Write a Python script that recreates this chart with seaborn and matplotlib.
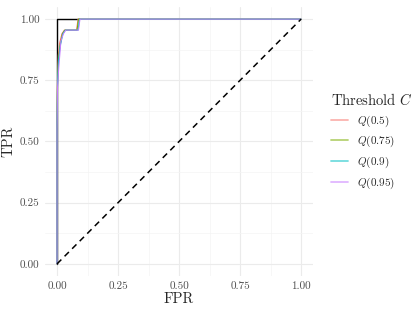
import numpy as np
import pandas as pd
import seaborn as sns
import matplotlib
matplotlib.use("Agg")
import matplotlib.pyplot as plt
from matplotlib.ticker import FormatStrFormatter, MultipleLocator

# ROC curves per threshold
labels = ["$Q(0.5)$", "$Q(0.75)$", "$Q(0.9)$", "$Q(0.95)$"]
fpr_q50 = [0.0, 0.0, 0.002, 0.005, 0.010, 0.020, 0.030, 0.080, 0.086, 1.0]
tpr_q50 = [0.0, 0.60, 0.76, 0.85, 0.90, 0.94, 0.955, 0.955, 1.0, 1.0]
fpr_q75 = [0.0, 0.0, 0.002, 0.006, 0.012, 0.022, 0.032, 0.082, 0.088, 1.0]
tpr_q75 = [0.0, 0.58, 0.74, 0.84, 0.89, 0.94, 0.955, 0.955, 1.0, 1.0]
fpr_q90 = [0.0, 0.0, 0.002, 0.006, 0.013, 0.024, 0.034, 0.086, 0.092, 1.0]
tpr_q90 = [0.0, 0.57, 0.73, 0.83, 0.89, 0.94, 0.955, 0.955, 1.0, 1.0]
fpr_q95 = [0.0, 0.0, 0.002, 0.007, 0.016, 0.026, 0.036, 0.088, 0.094, 1.0]
tpr_q95 = [0.0, 0.55, 0.72, 0.80, 0.91, 0.94, 0.955, 0.955, 1.0, 1.0]

# black reference step and chance diagonal
fpr_black = [0.0, 0.0, 0.088]
tpr_black = [0.0, 1.0, 1.0]
diag = [0.0, 1.0]

palette = ["#F8766D", "#7CAE00", "#00BFC4", "#C77CFF"]

frames = []
for lab, f, t in zip(labels, [fpr_q50, fpr_q75, fpr_q90, fpr_q95],
                     [tpr_q50, tpr_q75, tpr_q90, tpr_q95]):
    frames.append(pd.DataFrame({"FPR": f, "TPR": t, "C": lab}))
df = pd.concat(frames, ignore_index=True)

sns.set_style("white")
plt.rcParams["font.family"] = ["serif"]
plt.rcParams["font.serif"] = ["cmr10"]
plt.rcParams["mathtext.fontset"] = "cm"
plt.rcParams["axes.formatter.use_mathtext"] = True

fig = plt.figure(figsize=(4.15, 3.12), dpi=100)
ax = fig.add_axes([0.108, 0.115, 0.647, 0.863])

ax.plot(fpr_black, tpr_black, color="black", lw=1.0, zorder=2)
sns.lineplot(data=df, x="FPR", y="TPR", hue="C", palette=palette,
             estimator=None, sort=False, lw=0.75, ax=ax, zorder=3)
ax.plot(diag, diag, color="black", lw=1.1, ls=(0, (4, 3)), zorder=4)

ax.set_xlim(-0.05, 1.05)
ax.set_ylim(-0.05, 1.05)
for a in (ax.xaxis, ax.yaxis):
    a.set_major_locator(MultipleLocator(0.25))
    a.set_minor_locator(MultipleLocator(0.125))
    a.set_major_formatter(FormatStrFormatter("%.2f"))
ax.grid(which="major", color="#EBEBEB", lw=0.8)
ax.grid(which="minor", color="#F4F4F4", lw=0.5)
ax.set_axisbelow(True)
for s in ax.spines.values():
    s.set_visible(False)
ax.tick_params(which="both", length=0, labelsize=8, colors="#4D4D4D", pad=4)
ax.set_xlabel("FPR", fontsize=10.5, labelpad=1)
ax.set_ylabel("TPR", fontsize=10.5, labelpad=3)

handles, labs = ax.get_legend_handles_labels()
leg = ax.legend(handles[-4:], labs[-4:], title="Threshold $C$", frameon=False,
                loc="center left", bbox_to_anchor=(1.03, 0.5), fontsize=8,
                title_fontsize=10.5, handlelength=1.5, labelspacing=0.5)
leg._legend_box.align = "left"
for h in leg.legend_handles:
    h.set_linewidth(1.3)
    h.set_alpha(0.55)

fig.savefig("out.png", dpi=100)
